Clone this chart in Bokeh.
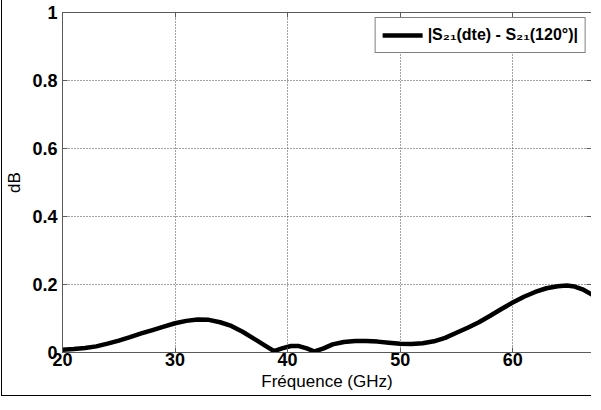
from bokeh.plotting import figure
from bokeh.models import Range1d, Legend, LegendItem, FixedTicker, LinearAxis
from bokeh.embed import file_html
from bokeh.resources import INLINE

# ---- data ----
freq_ghz = [20, 21, 22, 23, 24, 25, 26, 27, 28, 29, 30, 31, 32, 33, 34, 35, 36, 37, 38,
            38.8, 39.5, 40.3, 41, 41.7, 42.4, 43.2, 44, 45, 46, 47, 48, 49, 50, 51, 52,
            53, 54, 55, 56, 57, 58, 59, 60, 61, 62, 63, 64, 64.8, 65.5, 66.2, 67]
diff_db = [0.008, 0.010, 0.013, 0.018, 0.026, 0.035, 0.045, 0.056, 0.066, 0.076, 0.086,
           0.093, 0.097, 0.096, 0.089, 0.078, 0.061, 0.041, 0.020, 0.004, 0.012, 0.019,
           0.019, 0.012, 0.003, 0.012, 0.024, 0.031, 0.034, 0.034, 0.032, 0.029, 0.026,
           0.025, 0.027, 0.033, 0.043, 0.058, 0.073, 0.089, 0.108, 0.128, 0.147, 0.164,
           0.178, 0.189, 0.195, 0.197, 0.194, 0.186, 0.171]
x_ticks = [20, 30, 40, 50, 60]
y_ticks = [0, 0.2, 0.4, 0.6, 0.8, 1]
y_tick_labels = {0: "0", 0.2: "0.2", 0.4: "0.4", 0.6: "0.6", 0.8: "0.8", 1: "1"}
series_label = "|S\u2082\u2081(dte) - S\u2082\u2081(120\u00b0)|"
x_title = "Fréquence (GHz)"
y_title = "dB"

FONT = "Liberation Sans"
AX = "#5a5a5a"

p = figure(width=590, height=399, output_backend="svg", toolbar_location=None,
           x_range=Range1d(20, 67), y_range=Range1d(0, 1),
           min_border_left=59, min_border_right=1, min_border_top=14, min_border_bottom=45,
           background_fill_color="white", border_fill_color="white",
           outline_line_color=AX, outline_line_width=1)
p.styles = {"border-left": "1px solid black", "border-top": "1px solid black",
            "border-bottom": "1px solid black", "margin-top": "-3px", "margin-left": "1px"}

r = p.line(freq_ghz, diff_db, line_color="black", line_width=4.5,
           line_join="round", line_cap="round")

for ax in (p.xaxis[0], p.yaxis[0]):
    ax.axis_line_color = AX
    ax.major_tick_line_color = AX
    ax.major_tick_in = 5
    ax.major_tick_out = 0
    ax.minor_tick_line_color = None
    ax.major_label_text_font = FONT
    ax.major_label_text_font_style = "bold"
    ax.major_label_text_font_size = "18px"
    ax.major_label_text_color = "black"
    ax.axis_label_text_font = FONT
    ax.axis_label_text_font_style = "normal"
    ax.axis_label_text_font_size = "17px"
    ax.axis_label_text_color = "black"

p.xaxis[0].ticker = FixedTicker(ticks=x_ticks)
p.yaxis[0].ticker = FixedTicker(ticks=y_ticks)
p.yaxis[0].major_label_overrides = y_tick_labels
p.xaxis[0].axis_label = x_title
p.yaxis[0].axis_label = y_title
p.xaxis[0].major_label_standoff = 0
p.xaxis[0].axis_label_standoff = 3
p.yaxis[0].major_label_standoff = 5
p.yaxis[0].axis_label_standoff = 5

# box ticks on the top and right edges (no labels)
top = LinearAxis(ticker=FixedTicker(ticks=x_ticks), major_tick_in=5, major_tick_out=0,
                 major_label_overrides={t: "" for t in x_ticks}, major_label_standoff=0,
                 axis_line_color=AX, major_tick_line_color=AX, minor_tick_line_color=None)
right = LinearAxis(ticker=FixedTicker(ticks=y_ticks), major_tick_in=5, major_tick_out=0,
                   major_label_overrides={t: "" for t in y_ticks}, major_label_standoff=0,
                   axis_line_color=AX, major_tick_line_color=AX, minor_tick_line_color=None)
p.add_layout(top, "above")
p.add_layout(right, "right")

for g in (p.xgrid[0], p.ygrid[0]):
    g.grid_line_color = "#444444"
    g.grid_line_dash = "1 2"
    g.grid_line_width = 1

legend = Legend(items=[LegendItem(label=series_label, renderers=[r])],
                location="top_right", margin=5, padding=7, spacing=0,
                glyph_width=40, glyph_height=20, label_standoff=5,
                label_text_font=FONT, label_text_font_style="bold",
                label_text_font_size="16px", label_text_color="black",
                border_line_color="black", border_line_width=1,
                background_fill_color="white", background_fill_alpha=1)
p.add_layout(legend)

open("out.html", "w").write(file_html(p, INLINE))
